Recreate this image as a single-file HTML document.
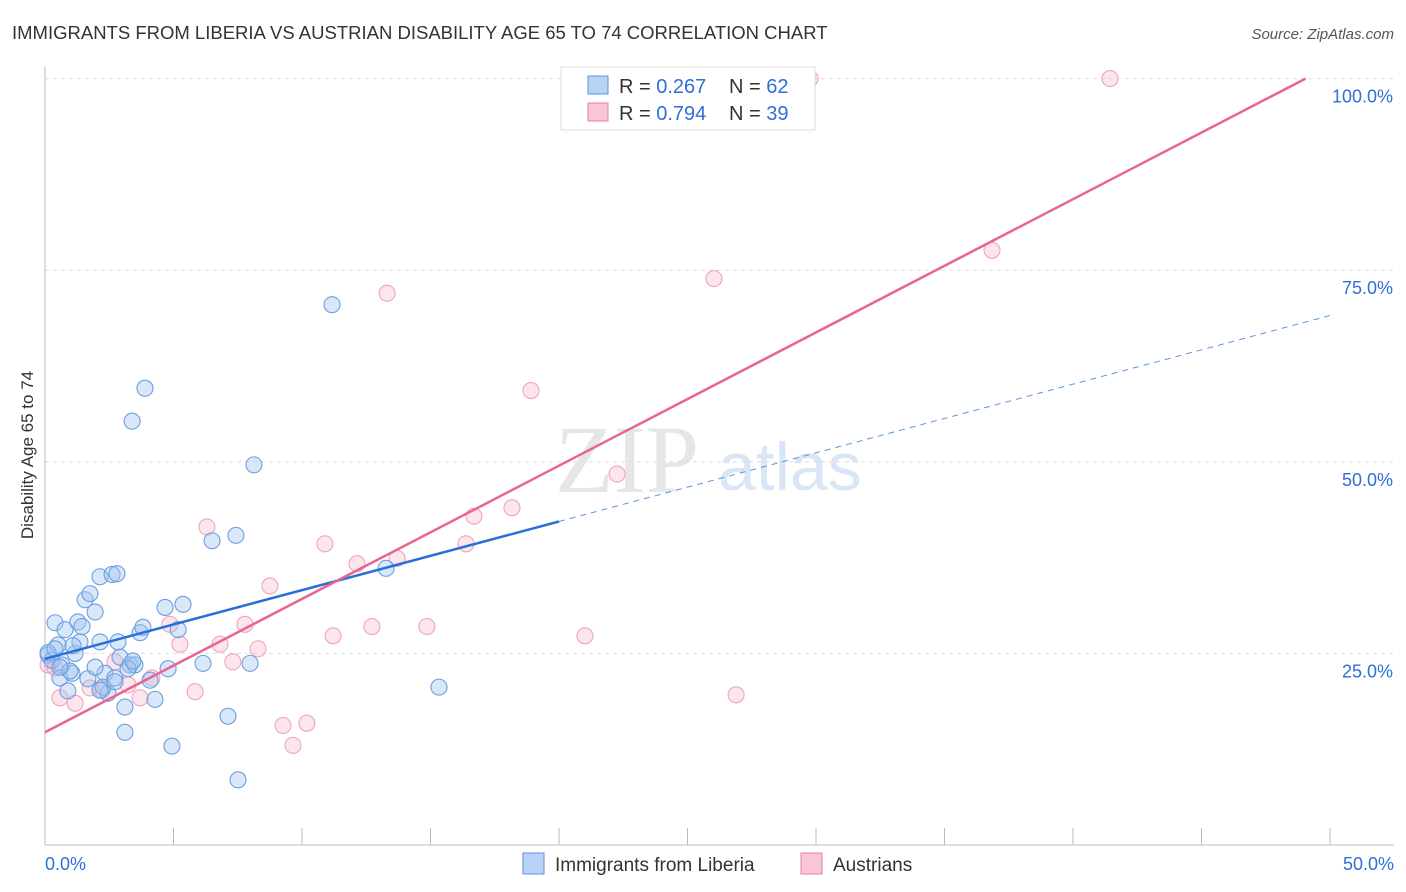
<!DOCTYPE html>
<html><head><meta charset="utf-8">
<style>
body{margin:0;background:#fff;font-family:"Liberation Sans",sans-serif;}
#wrap{position:relative;width:1406px;height:892px;overflow:hidden;}
</style></head>
<body><div id="wrap">
<svg id="svg" width="1406" height="892" xmlns="http://www.w3.org/2000/svg">
<text x="12" y="39" font-size="18.5" fill="#333">IMMIGRANTS FROM LIBERIA VS AUSTRIAN DISABILITY AGE 65 TO 74 CORRELATION CHART</text>
<text x="1394" y="39" font-size="15" fill="#555" font-style="italic" text-anchor="end">Source: ZipAtlas.com</text>
<text x="555" y="492" font-size="96" fill="#e6e6e6" font-family="Liberation Serif">ZIP</text>
<text x="718" y="490" font-size="68" fill="#d8e6f5">atlas</text>
<text transform="translate(33,455) rotate(-90)" font-size="17" fill="#333" text-anchor="middle">Disability Age 65 to 74</text>
<g id="grid"></g><g id="axes"></g><g id="pts"></g><g id="lines"></g>
<g>
<rect x="561" y="67" width="254" height="63" fill="#fff" stroke="#ddd"/>
<rect x="588" y="76" width="20" height="18" fill="#b8d3f5" stroke="#5b94dd"/>
<rect x="588" y="103" width="20" height="18" fill="#f9c6d5" stroke="#e87fa0"/>
<text x="619" y="93" font-size="20" fill="#333">R = <tspan fill="#2f6fd6">0.267</tspan></text>
<text x="729" y="93" font-size="20" fill="#333">N = <tspan fill="#2f6fd6">62</tspan></text>
<text x="619" y="120" font-size="20" fill="#333">R = <tspan fill="#2f6fd6">0.794</tspan></text>
<text x="729" y="120" font-size="20" fill="#333">N = <tspan fill="#2f6fd6">39</tspan></text>
</g>
<g>
<rect x="523" y="853" width="21" height="21" fill="#b8d3f5" stroke="#5b94dd"/>
<text x="555" y="871" font-size="19" fill="#333">Immigrants from Liberia</text>
<rect x="801" y="853" width="21" height="21" fill="#f9c6d5" stroke="#e87fa0"/>
<text x="833" y="871" font-size="19" fill="#333">Austrians</text>
</g>
</svg>
<script>
const xTicks=[0,5,10,15,20,25,30,35,40,45,50];
const yTickVals=[25,50,75,100];
const yTickLabels=["25.0%","50.0%","75.0%","100.0%"];
const blueX=[0.39,0.12,0.27,0.51,0.66,0.78,0.58,0.89,1.05,1.17,1.28,1.36,1.44,1.56,1.75,1.95,2.14,2.14,2.33,2.45,2.61,2.72,2.80,2.84,2.92,3.11,3.11,3.31,3.39,3.50,3.70,3.81,3.89,4.09,4.28,4.67,4.79,4.94,5.18,5.37,6.15,6.50,7.12,7.43,7.51,7.98,8.13,11.17,13.27,15.33,0.12,0.39,0.97,1.67,1.95,2.26,2.72,3.23,3.42,1.09,0.58,2.14];
const blueY=[29.0,24.8,24.1,26.1,23.5,28.1,21.8,20.1,22.4,25.0,29.1,26.5,28.5,32.0,32.8,30.4,26.5,35.0,22.4,19.8,35.3,21.8,35.4,26.5,24.5,18.0,14.7,23.5,55.3,23.5,27.7,28.4,59.6,21.5,19.0,31.0,23.0,12.9,28.1,31.4,23.7,39.7,16.8,40.4,8.5,23.7,49.6,70.5,36.1,20.6,25.1,25.6,22.7,21.7,23.2,20.6,21.3,23.0,24.0,26.0,23.2,20.2];
const pinkX=[0.12,0.39,0.58,1.17,1.75,2.22,2.72,3.23,3.70,4.16,4.86,5.25,5.84,6.30,6.81,7.31,7.78,8.29,8.75,9.26,9.65,10.19,10.89,11.21,12.14,12.72,13.31,13.70,14.86,16.38,16.69,18.17,18.91,21.01,22.26,26.03,26.89,29.77,36.85,41.44];
const pinkY=[23.5,23.1,19.2,18.5,20.5,20.2,23.9,20.9,19.2,21.8,28.8,26.2,20.0,41.5,26.2,23.9,28.8,25.6,33.8,15.6,13.0,15.9,39.3,27.3,36.7,28.5,72.0,37.4,28.5,39.3,42.9,44.0,59.3,27.3,48.4,73.9,19.6,100.0,77.6,100.0];
const NS="http://www.w3.org/2000/svg";
const X=v=>45+v*25.7, Y=v=>845-v*7.664;
function mk(tag,attrs,parent){const e=document.createElementNS(NS,tag);for(const k in attrs)e.setAttribute(k,attrs[k]);document.getElementById(parent).appendChild(e);return e;}
yTickVals.forEach((v,i)=>{
 const g=mk('line',{x1:45,x2:1394,y1:Y(v),y2:Y(v),stroke:'#ddd','stroke-dasharray':'4,4'},'grid');
 
 
 const t=mk('text',{x:1393,y:Y(v)+24,'font-size':18,fill:'#2f6fd6','text-anchor':'end'},'axes');
 t.textContent=yTickLabels[i];
 
 
});
mk('line',{x1:45,x2:45,y1:67,y2:845,stroke:'#bbb'},'axes');
mk('line',{x1:45,x2:1394,y1:845,y2:845,stroke:'#bbb'},'axes');
xTicks.forEach(v=>{
 const l=mk('line',{x1:X(v),x2:X(v),y1:828,y2:845,stroke:'#bbb'},'axes');
 
 
});
const t0=mk('text',{x:45,y:870,'font-size':18,fill:'#2f6fd6'},'axes');t0.textContent='0.0%';


const t1=mk('text',{x:1394,y:870,'font-size':18,fill:'#2f6fd6','text-anchor':'end'},'axes');t1.textContent='50.0%';


pinkX.forEach((x,i)=>{
 const c=mk('circle',{cx:X(x),cy:Y(pinkY[i]),r:8,fill:'rgba(246,170,195,0.3)',stroke:'#eea5bd','stroke-width':1.1},'pts');
 
 
});
blueX.forEach((x,i)=>{
 const c=mk('circle',{cx:X(x),cy:Y(blueY[i]),r:8,fill:'rgba(160,196,240,0.4)',stroke:'#6a9fe0','stroke-width':1.1},'pts');
 
 
});
function fit(xs,ys){const n=xs.length;let mx=0,my=0;xs.forEach((x,i)=>{mx+=x;my+=ys[i];});mx/=n;my/=n;let sxy=0,sxx=0;xs.forEach((x,i)=>{sxy+=(x-mx)*(ys[i]-my);sxx+=(x-mx)**2;});const b=sxy/sxx;return [my-b*mx,b];}
const [ba,bb]=fit(blueX,blueY);
let l=mk('line',{x1:X(0),y1:Y(ba),x2:X(20),y2:Y(ba+bb*20),stroke:'#2a6fd8','stroke-width':2.5},'lines');


l=mk('line',{x1:X(20),y1:Y(ba+bb*20),x2:X(50),y2:Y(ba+bb*50),stroke:'#5b94dd','stroke-width':1,'stroke-dasharray':'6,5'},'lines');


const [pa,pb]=fit(pinkX,pinkY);
const xe=Math.min(50,(100-pa)/pb);
l=mk('line',{x1:X(0),y1:Y(pa),x2:X(xe),y2:Y(pa+pb*xe),stroke:'#e8658f','stroke-width':2.5},'lines');


</script>
</div></body></html>
